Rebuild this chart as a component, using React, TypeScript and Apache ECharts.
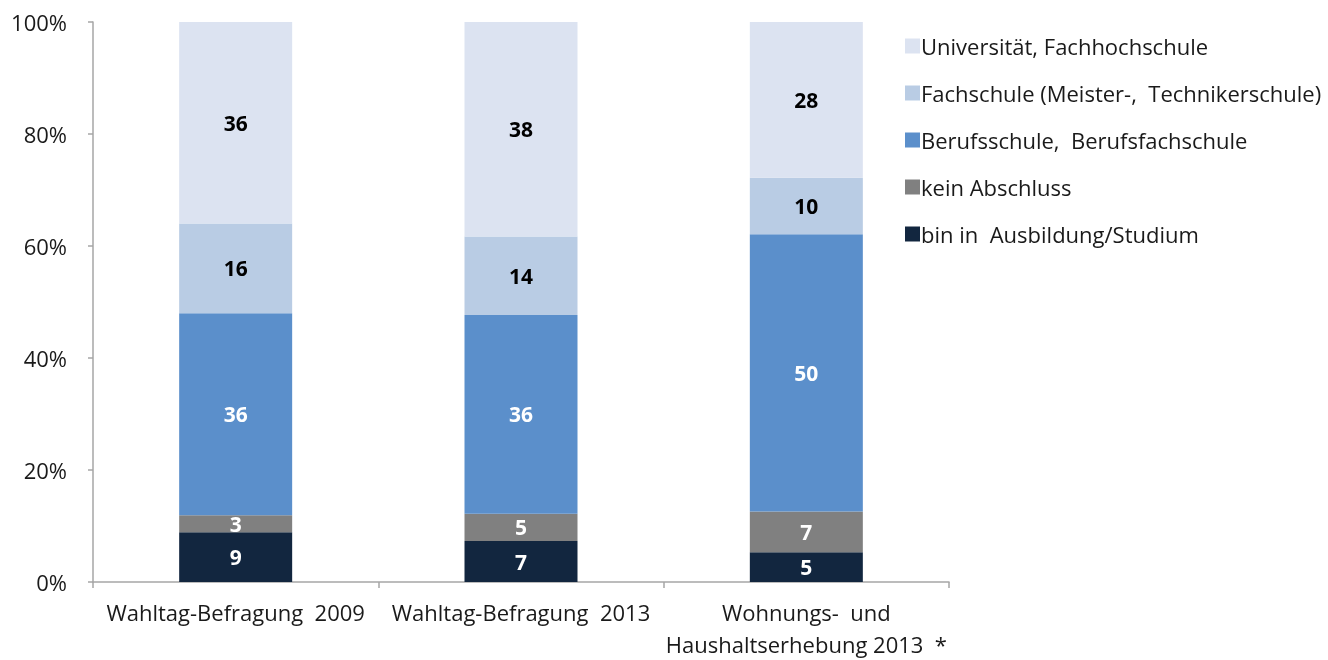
import React, { useEffect, useRef } from "react";
import * as echarts from "echarts";

const categories = [
  "Wahltag-Befragung  2009",
  "Wahltag-Befragung  2013",
  "Wohnungs-  und\nHaushaltserhebung 2013  *",
];
const seriesNames = [
  "bin in  Ausbildung/Studium",
  "kein Abschluss",
  "Berufsschule,  Berufsfachschule",
  "Fachschule (Meister-,  Technikerschule)",
  "Universität, Fachhochschule",
];
const ausbildung = [8.9, 7.3, 5.3];
const keinAbschluss = [3.0, 4.9, 7.3];
const berufsschule = [36.1, 35.5, 49.5];
const fachschule = [16.0, 14.0, 10.1];
const universitaet = [36.0, 38.3, 27.8];
const yTicks = [0, 20, 40, 60, 80, 100];

const colors = ["#12263F", "#808080", "#5B8FCB", "#B9CCE4", "#DCE3F1"];
const labelColors = ["#ffffff", "#ffffff", "#ffffff", "#000000", "#000000"];
const FONT = "'Open Sans', 'Noto Sans', sans-serif";

export default function App() {
  const ref = useRef<HTMLDivElement>(null);
  useEffect(() => {
    if (!ref.current) return;
    const chart = echarts.init(ref.current, undefined, { renderer: "svg" });
    const data = [ausbildung, keinAbschluss, berufsschule, fachschule, universitaet];
    chart.setOption({
      animation: false,
      textStyle: { fontFamily: FONT },
      grid: { left: 93, width: 856, top: 22, height: 565, containLabel: false },
      legend: {
        orient: "vertical",
        left: 900,
        top: 30,
        itemWidth: 15,
        itemHeight: 15,
        itemGap: 25,
        icon: "rect",
        data: [...seriesNames].reverse(),
        textStyle: { fontSize: 22, color: "#1a1a1a", fontFamily: FONT, padding: [0, 0, 0, -4] },
        selectedMode: false,
      },
      xAxis: {
        type: "category",
        data: categories,
        axisLine: { lineStyle: { color: "#A6A6A6", width: 1.5 } },
        axisTick: { show: true, alignWithLabel: false, length: 6, lineStyle: { color: "#A6A6A6", width: 1.5 } },
        axisLabel: { fontSize: 22, color: "#1a1a1a", margin: 14, lineHeight: 32, fontFamily: FONT, interval: 0 },
      },
      yAxis: {
        type: "value",
        min: 0,
        max: 100,
        interval: 20,
        splitLine: { show: false },
        axisLine: { show: true, lineStyle: { color: "#A6A6A6", width: 1.5 } },
        axisTick: { show: true, length: 5, lineStyle: { color: "#A6A6A6", width: 1.5 } },
        axisLabel: {
          fontSize: 22,
          color: "#1a1a1a",
          margin: 26,
          fontFamily: FONT,
          formatter: (v: number) => (yTicks.includes(v) ? v + "%" : ""),
        },
      },
      series: seriesNames.map((name, i) => ({
        name,
        type: "bar",
        stack: "total",
        barWidth: 113,
        data: data[i],
        itemStyle: { color: colors[i] },
        label: {
          show: true,
          position: "inside",
          color: labelColors[i],
          fontSize: 21,
          fontWeight: "bold",
          fontFamily: FONT,
          formatter: (p: any) => String(Math.round(p.value)),
        },
      })),
    });
    return () => chart.dispose();
  }, []);
  return (
    <div
      ref={ref}
      style={{ position: "fixed", left: 0, top: 0, width: 1328, height: 660 }}
    />
  );
}
